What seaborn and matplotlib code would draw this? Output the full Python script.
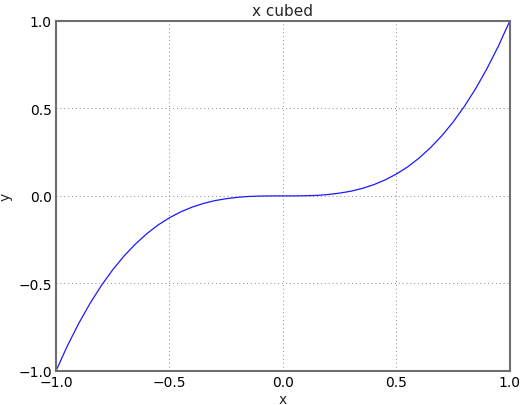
import matplotlib
matplotlib.use("Agg")
import matplotlib.pyplot as plt
import seaborn as sns

# values
x_vals = [-1.00, -0.95, -0.90, -0.85, -0.80, -0.75, -0.70, -0.65, -0.60, -0.55,
          -0.50, -0.45, -0.40, -0.35, -0.30, -0.25, -0.20, -0.15, -0.10, -0.05,
          0.00, 0.05, 0.10, 0.15, 0.20, 0.25, 0.30, 0.35, 0.40, 0.45,
          0.50, 0.55, 0.60, 0.65, 0.70, 0.75, 0.80, 0.85, 0.90, 0.95, 1.00]
y_vals = [-1.000, -0.857, -0.729, -0.614, -0.512, -0.422, -0.343, -0.275, -0.216, -0.166,
          -0.125, -0.091, -0.064, -0.043, -0.027, -0.016, -0.008, -0.003, -0.001, -0.000,
          0.000, 0.000, 0.001, 0.003, 0.008, 0.016, 0.027, 0.043, 0.064, 0.091,
          0.125, 0.166, 0.216, 0.275, 0.343, 0.422, 0.512, 0.614, 0.729, 0.857, 1.000]
x_ticks = [-1.0, -0.5, 0.0, 0.5, 1.0]
y_ticks = [-1.0, -0.5, 0.0, 0.5, 1.0]

sns.set_style("white")
plt.rcParams['font.family'] = ['DejaVu Sans']

fig = plt.figure(figsize=(5.21, 4.06), dpi=100)
ax = fig.add_axes([0.1075, 0.084, 0.871, 0.862])

sns.lineplot(x=x_vals, y=y_vals, color="#1a1aff", lw=0.9, ax=ax)

ax.set_xlim(-1, 1)
ax.set_ylim(-1, 1)
ax.set_xticks(x_ticks)
ax.set_yticks(y_ticks)
ax.set_xticklabels([f"{t:.1f}".replace("-", "\u2212") for t in x_ticks])
ax.set_yticklabels([f"{t:.1f}".replace("-", "\u2212") for t in y_ticks])
ax.tick_params(length=0, labelsize=10, colors="black", pad=3)
ax.grid(True, linestyle=(0, (1, 3)), color="#8c8c8c", linewidth=0.7)
for s in ax.spines.values():
    s.set_color("#6e6e6e")
    s.set_linewidth(1.5)

ax.set_title("x cubed", fontsize=11, pad=4)
ax.set_xlabel("x", fontsize=10, labelpad=2)
ax.set_ylabel("y", fontsize=10, labelpad=4)

# clipped legend marker at the left edge
fig.text(-0.006, 0.897, ":", color="#1a1aff", fontsize=8)

fig.savefig("out.png", dpi=100)
